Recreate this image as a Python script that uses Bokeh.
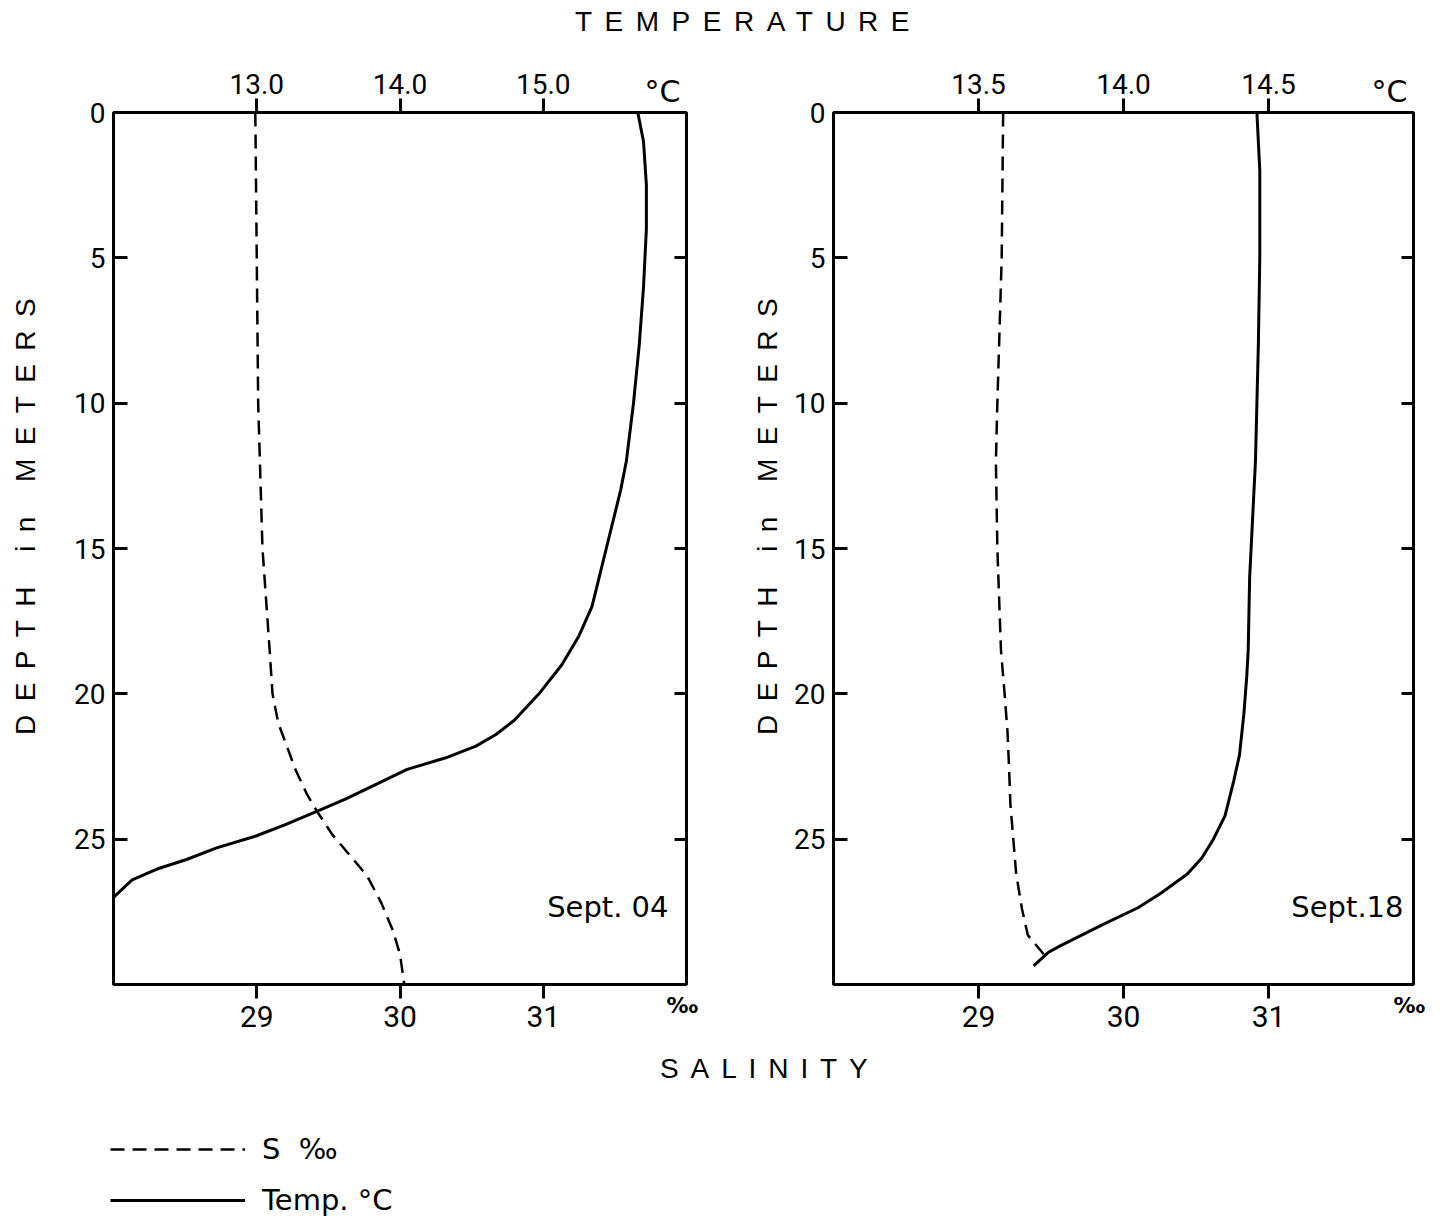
from bokeh.plotting import figure
from bokeh.models import (Range1d, LinearAxis, FixedTicker, NumeralTickFormatter,
                          Label, Div, Legend, LegendItem)
from bokeh.layouts import row, column
from bokeh.embed import file_html
from bokeh.resources import INLINE

# ---------------- data ----------------
depth_ticks = [0, 5, 10, 15, 20, 25]
depth_ticks_right = [5, 10, 15, 20, 25]
sal_ticks = [29, 30, 31]

# Sept. 04
sep04_temp_ticks = [13.0, 14.0, 15.0]
sep04_temp_depth = [0, 1, 2.5, 4, 6, 8, 10, 12, 13, 14, 15, 16, 17, 18, 19, 20, 20.9, 21.4, 21.8, 22.2,
                    22.6, 23.1, 23.6, 24.0, 24.5, 24.9, 25.3, 25.7, 26.0, 26.4, 27.0]
sep04_temp = [15.66, 15.70, 15.72, 15.72, 15.70, 15.67, 15.63, 15.58, 15.54, 15.49, 15.44, 15.39, 15.34,
              15.25, 15.13, 14.97, 14.80, 14.67, 14.53, 14.32, 14.05, 13.84, 13.63, 13.44, 13.20, 12.99,
              12.72, 12.51, 12.32, 12.13, 12.0]
sep04_sal_depth = [0, 5, 10, 15, 18.5, 20, 21, 21.8, 22.6, 23.45, 24.04, 24.86, 25.44, 26.26, 27.2, 28.14,
                   28.96, 30.0]
sep04_sal = [28.99, 29.0, 29.01, 29.04, 29.09, 29.11, 29.15, 29.21, 29.27, 29.35, 29.42, 29.53, 29.63,
             29.77, 29.87, 29.95, 30.0, 30.03]

# Sept. 18
sep18_temp_ticks = [13.5, 14.0, 14.5]
sep18_temp_depth = [0, 2, 5, 8, 10, 12, 14, 16, 18.5, 19.4, 20.7, 22.1, 23.0, 24.2, 25.0, 25.65, 26.2,
                    26.85, 27.36, 27.93, 28.68, 28.9, 29.36]
sep18_temp = [14.46, 14.47, 14.47, 14.465, 14.46, 14.455, 14.445, 14.435, 14.43, 14.425, 14.415, 14.40,
              14.38, 14.35, 14.31, 14.27, 14.22, 14.13, 14.05, 13.93, 13.78, 13.74, 13.69]
sep18_sal_depth = [0, 5, 10, 12, 15, 18.5, 20, 21.3, 22.45, 23.8, 25, 26.2, 27.4, 28.3, 28.96]
sep18_sal = [29.17, 29.16, 29.13, 29.12, 29.13, 29.155, 29.18, 29.20, 29.21, 29.22, 29.24, 29.26, 29.30,
             29.34, 29.45]

TICK_FONT = "Roboto"
TEXT_FONT = "DejaVu Sans"
FIG_H = 1020


def make_axis(**kw):
    ax = LinearAxis(**kw)
    ax.axis_line_color = None
    ax.minor_tick_line_color = None
    ax.major_tick_line_color = "black"
    ax.major_tick_line_width = 3
    ax.major_label_text_color = "black"
    ax.major_label_text_font = TICK_FONT
    return ax


def panel(t_range, t_ticks, temp_d, temp_v, sal_d, sal_v, date_text, date_offset,
          width, bl, br):
    p = figure(width=width, height=FIG_H, output_backend="svg", toolbar_location=None,
               x_range=Range1d(*t_range), y_range=Range1d(30, 0),
               x_axis_location=None, y_axis_location=None,
               min_border_left=bl, min_border_right=br, min_border_top=77, min_border_bottom=71,
               background_fill_color="white", border_fill_color="white")
    p.extra_x_ranges = {"sal": Range1d(28, 32)}
    p.xgrid.visible = False
    p.ygrid.visible = False
    p.outline_line_color = "black"
    p.outline_line_width = 3
    p.outline_line_alpha = 1.0

    top = make_axis(ticker=FixedTicker(ticks=t_ticks), formatter=NumeralTickFormatter(format="0.0"))
    top.major_tick_out = 14
    top.major_tick_in = 0
    top.major_label_standoff = 5
    top.major_label_text_font_size = "28px"
    p.add_layout(top, "above")

    bottom = make_axis(x_range_name="sal", ticker=FixedTicker(ticks=sal_ticks))
    bottom.major_tick_out = 14
    bottom.major_tick_in = 0
    bottom.major_label_standoff = 7
    bottom.major_label_text_font_size = "30px"
    p.add_layout(bottom, "below")

    left = make_axis(ticker=FixedTicker(ticks=depth_ticks))
    left.major_tick_out = 0
    left.major_tick_in = 14
    left.major_label_standoff = 8
    left.major_label_text_font_size = "28px"
    p.add_layout(left, "left")

    right = make_axis(ticker=FixedTicker(ticks=depth_ticks_right))
    right.major_tick_out = 0
    right.major_tick_in = 12
    right.major_label_standoff = 0
    right.major_label_overrides = {t: "" for t in depth_ticks_right}
    p.add_layout(right, "right")

    p.line(temp_v, temp_d, line_color="black", line_width=3)
    p.line(sal_v, sal_d, x_range_name="sal", line_color="black", line_width=2.5, line_dash="14 8")

    p.add_layout(Label(x=t_range[1], y=-0.72, x_offset=-6, text="°C", text_align="right",
                       text_baseline="alphabetic", text_font=TEXT_FONT, text_font_size="30px",
                       text_color="black"), "above")
    p.add_layout(Label(x=32, x_range_name="sal", y=30.28, x_offset=-20, text="‰", text_align="left",
                       text_baseline="top", text_font=TEXT_FONT, text_font_size="22px",
                       text_font_style="bold", text_color="black"), "below")
    p.add_layout(Label(x=t_range[1], y=27.35, x_offset=date_offset, text=date_text, text_align="right",
                       text_baseline="alphabetic", text_font=TEXT_FONT, text_font_size="29px",
                       text_color="black"))
    return p


p_left = panel((12, 16), sep04_temp_ticks, sep04_temp_depth, sep04_temp, sep04_sal_depth, sep04_sal,
               "Sept. 04", -18, 692, 65, 54)
p_right = panel((13, 15), sep18_temp_ticks, sep18_temp_depth, sep18_temp, sep18_sal_depth, sep18_sal,
                "Sept.18", -10, 651, 43, 28)

TXT = ("position:absolute; white-space:nowrap; font-family:'Liberation Sans'; font-size:28px; "
       "line-height:28px; color:black;")


def hdiv(text, width, height, left, top, ls):
    return Div(text=f'<div style="{TXT} left:{left}px; top:{top}px; letter-spacing:{ls}px;">{text}</div>',
               width=width, height=height, margin=(0, 0, 0, 0), styles={"position": "relative"})


def vdiv(text, width, height, left, top, ls):
    style = (f"{TXT} left:{left}px; top:{top}px; letter-spacing:{ls}px; writing-mode:vertical-rl; "
             "transform:rotate(180deg);")
    return Div(text=f'<div style="{style}">{text}</div>', width=width, height=height,
               margin=(0, 0, 0, 0), styles={"position": "relative"})


title_div = hdiv("TEMPERATURE", 1433, 27, 567, 0, 12.5)
depth_l = vdiv("DEPTH in METERS", 40, FIG_H, 4, 250, 13.4)
depth_r = vdiv("DEPTH in METERS", 50, FIG_H, 14, 250, 13.4)
sal_div = hdiv("SALINITY", 1433, 28, 652, 0, 11.9)

# legend figure
lg = figure(width=520, height=141, output_backend="svg", toolbar_location=None,
            x_range=Range1d(28, 32), y_range=Range1d(30, 0),
            x_axis_location=None, y_axis_location=None,
            min_border_left=102, min_border_right=0, min_border_top=49, min_border_bottom=0,
            background_fill_color="white", border_fill_color="white")
lg.outline_line_color = None
lg.xgrid.visible = False
lg.ygrid.visible = False
r_s = lg.line(sep04_sal, sep04_sal_depth, line_color="black", line_width=2.5, line_dash="14 8")
r_t = lg.line(sep04_sal, sep04_sal_depth, line_color="black", line_width=3)
r_s.visible = False
r_t.visible = False
legend = Legend(items=[LegendItem(label="S  ‰", renderers=[r_s]),
                       LegendItem(label="Temp. °C", renderers=[r_t])],
                location="top_left", margin=0, padding=0, spacing=17,
                glyph_width=135, glyph_height=32, label_height=32, label_standoff=17,
                label_text_font=TEXT_FONT, label_text_font_size="29px", label_text_color="black",
                border_line_color=None, background_fill_alpha=0, click_policy="none")
lg.add_layout(legend)

layout = column(title_div, row(depth_l, p_left, depth_r, p_right), sal_div, lg, margin=(8, 0, 0, 8))

open("out.html", "w").write(file_html(layout, INLINE))
